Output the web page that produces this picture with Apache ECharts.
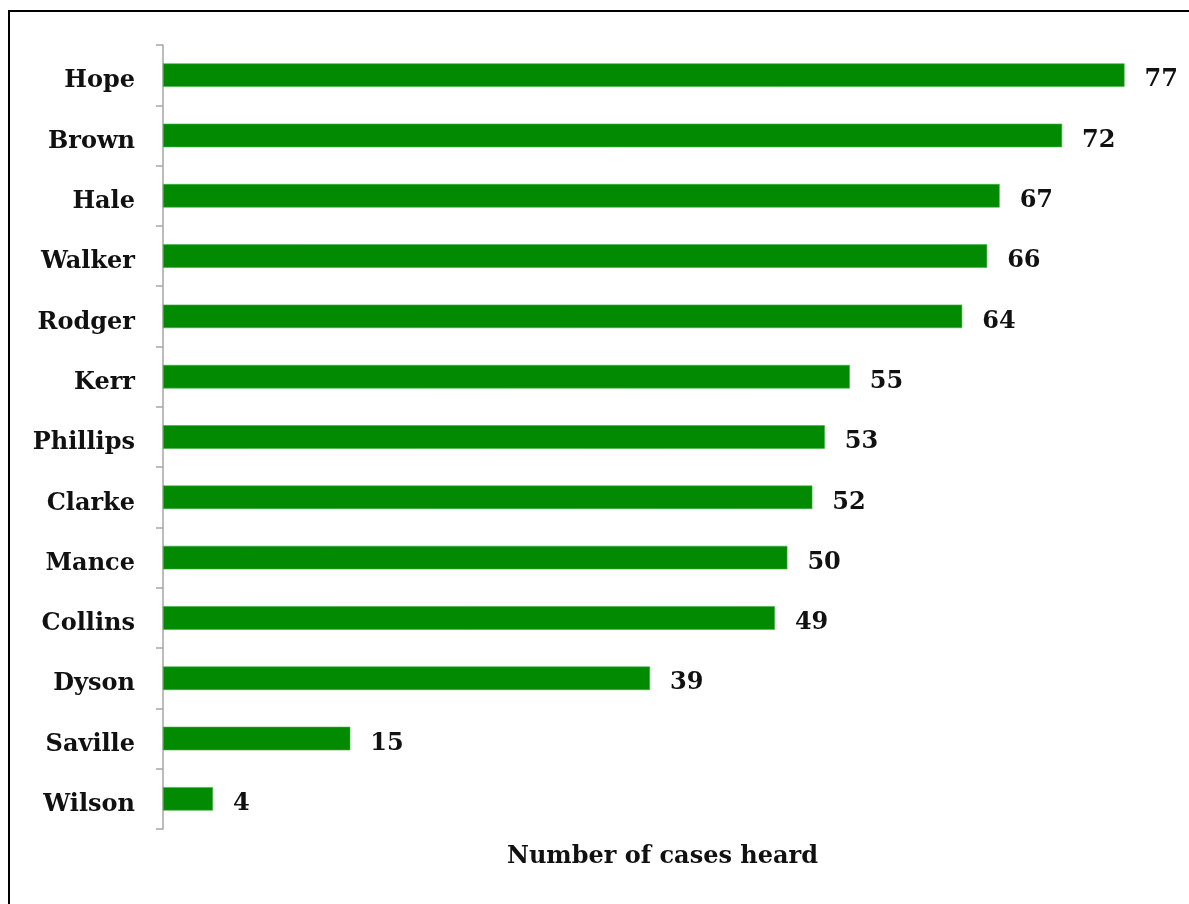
<!DOCTYPE html>
<html><head><meta charset="utf-8">
<script src="https://cdn.jsdelivr.net/npm/echarts@6/dist/echarts.min.js"></script>
<style>html,body{margin:0;padding:0;background:#fff}#c{width:1189px;height:904px}</style>
</head><body><div id="c"></div>
<script>
const categories = ["Hope","Brown","Hale","Walker","Rodger","Kerr","Phillips","Clarke","Mance","Collins","Dyson","Saville","Wilson"];
const cases = [77,72,67,66,64,55,53,52,50,49,39,15,4];
const axisTitle = "Number of cases heard";

const font = "DejaVu Serif";
const chart = echarts.init(document.getElementById('c'), null, {renderer:'canvas'});
chart.setOption({
  animation:false,
  backgroundColor:'#fff',
  graphic:[{type:'rect',shape:{x:9,y:11,width:1300,height:1000},style:{fill:'none',stroke:'#000',lineWidth:2},silent:true}],
  grid:{left:163,top:45,bottom:75,width:999,containLabel:false},
  xAxis:{type:'value',min:0,max:80,
    axisLine:{show:false},axisTick:{show:false},axisLabel:{show:false},splitLine:{show:false},
    name:axisTitle,nameLocation:'middle',nameGap:16,
    nameTextStyle:{fontFamily:font,fontWeight:'bold',fontSize:24,color:'#111'}},
  yAxis:{type:'category',data:categories,inverse:true,
    axisLine:{show:true,lineStyle:{color:'#a6a6a6',width:1.5}},
    axisTick:{show:true,alignWithLabel:false,inside:false,length:7,lineStyle:{color:'#a6a6a6',width:1.5}},
    axisLabel:{fontFamily:font,fontWeight:'bold',fontSize:24,color:'#111',margin:28,verticalAlign:'top',lineHeight:12}},
  series:[{type:'bar',data:cases,barCategoryGap:'61%',
    itemStyle:{color:'#028a02',borderColor:'#3fb03f',borderWidth:0.6},
    label:{show:true,position:'right',distance:20,offset:[0,5],fontFamily:font,fontWeight:'bold',fontSize:24,color:'#111'}}]
});
</script></body></html>
